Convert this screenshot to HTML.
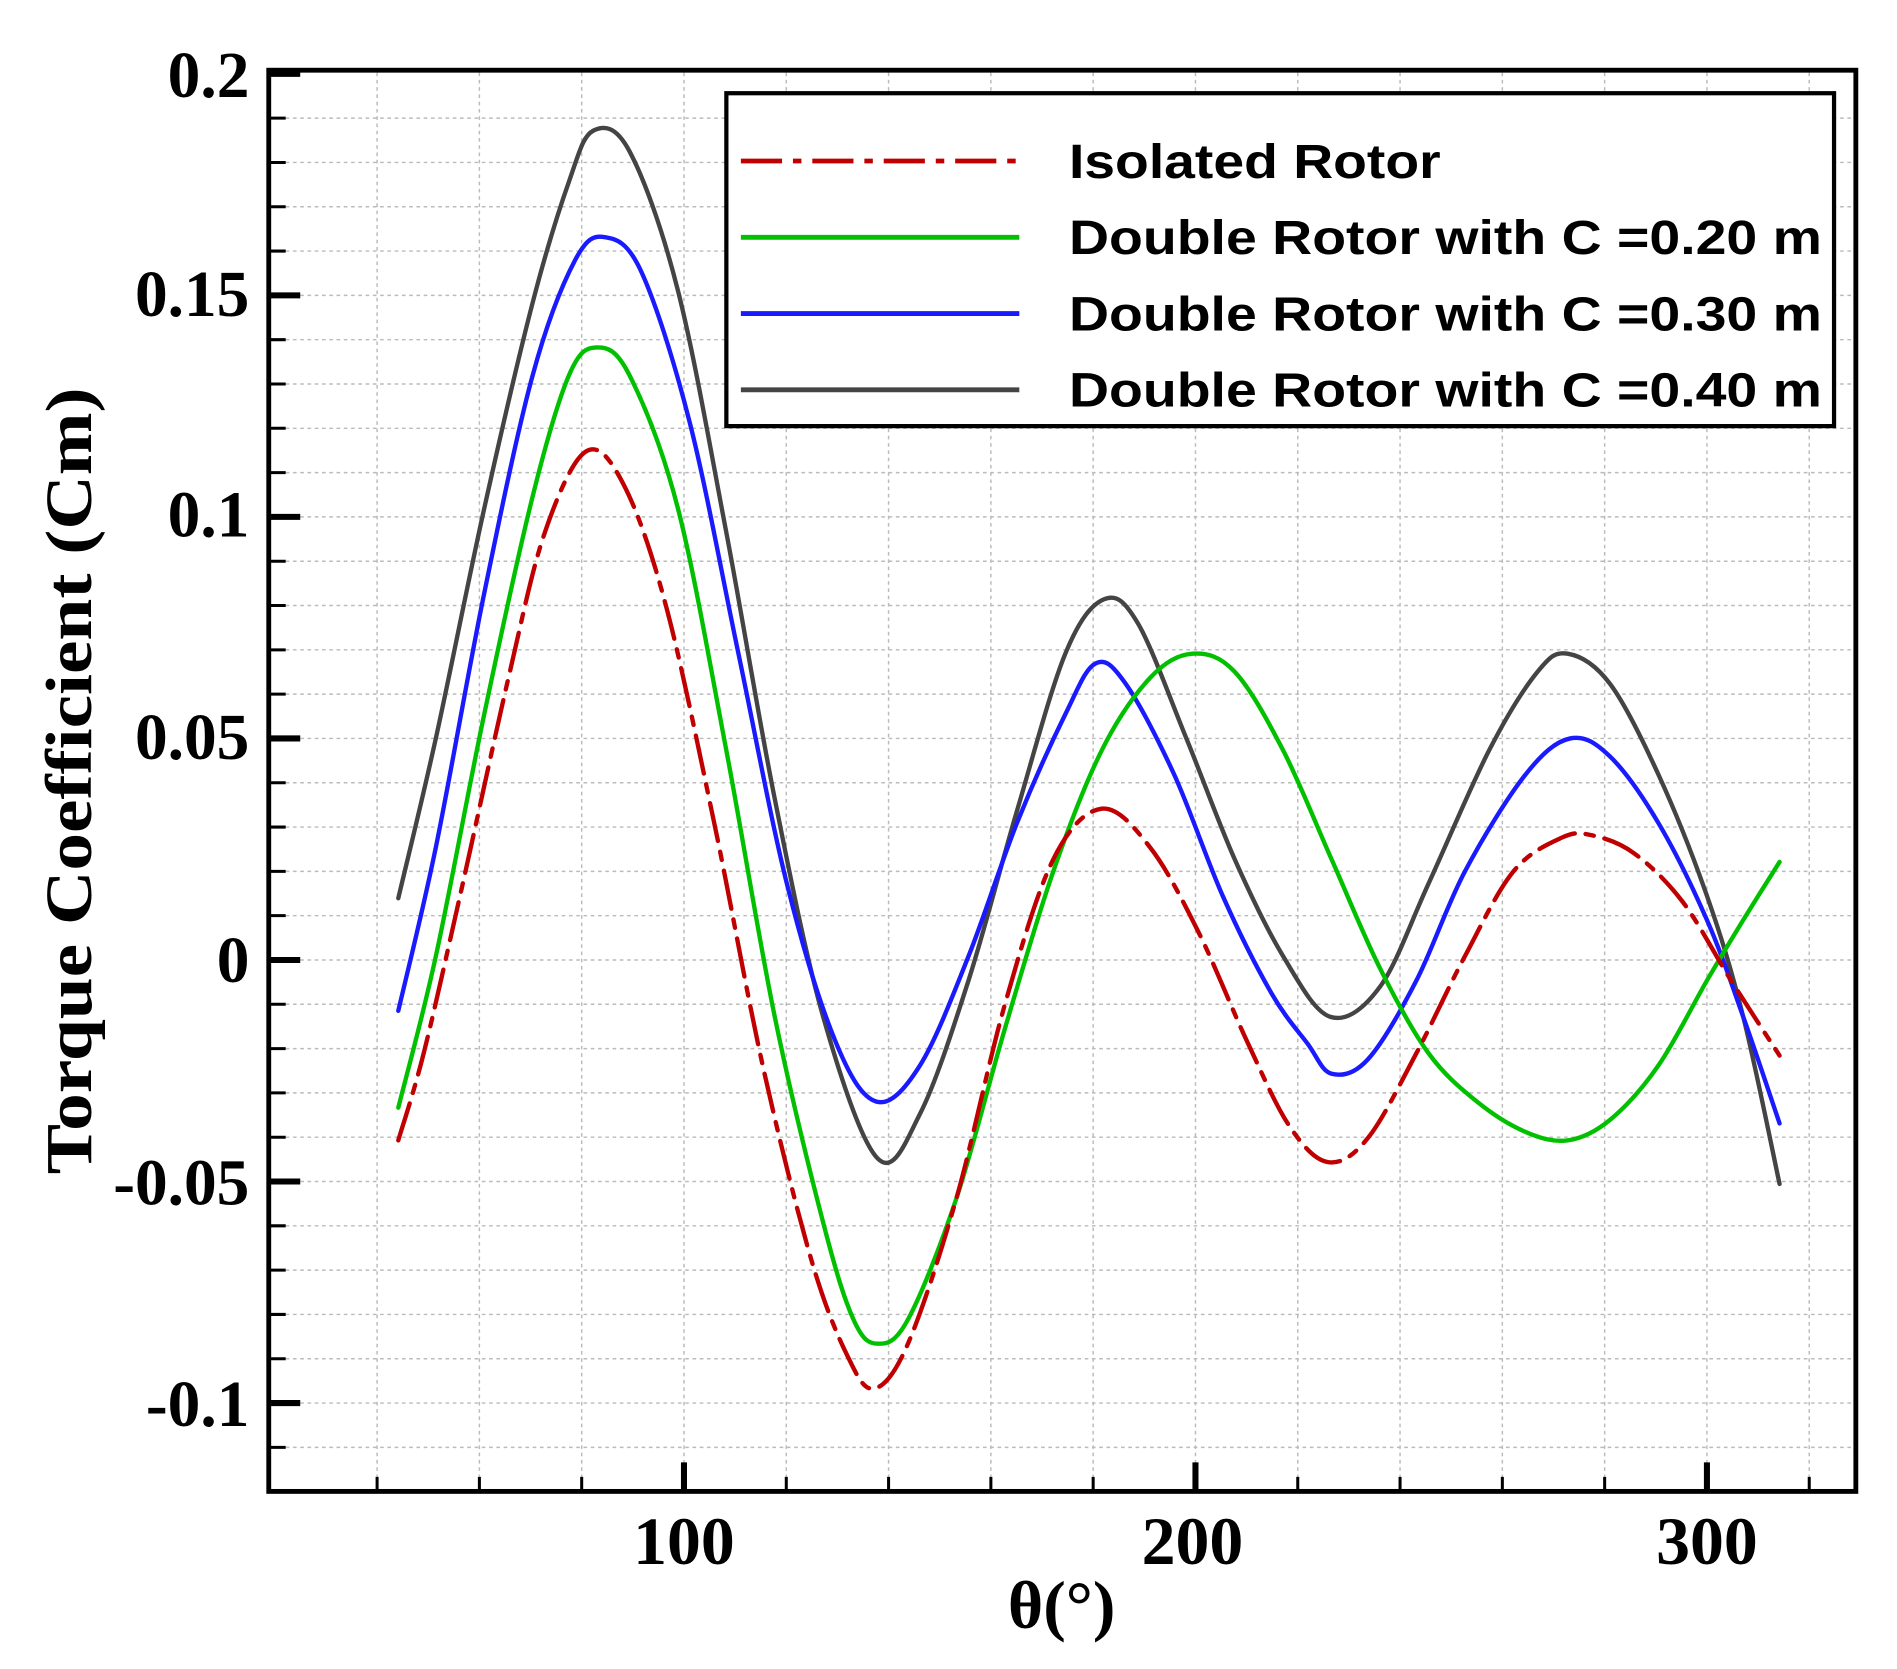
<!DOCTYPE html>
<html><head><meta charset="utf-8"><style>
html,body{margin:0;padding:0;background:#fff;}
svg{display:block;}
</style></head><body>
<svg id="c" width="1897" height="1669" viewBox="0 0 1567 1378.7" preserveAspectRatio="none" xmlns="http://www.w3.org/2000/svg">
<rect width="1567" height="1378.7" fill="#fff"/>
<g id="grid" stroke="#bbb" stroke-width="1.2" stroke-dasharray="3,3"></g>
<g id="ticks" stroke="#000"></g>
<g id="curves" fill="none" stroke-linejoin="round" stroke-linecap="round"></g>
<rect x="222" y="58" width="1311" height="1174" fill="none" stroke="#000" stroke-width="4"/>
<rect x="600" y="77" width="915" height="275" fill="#fff" stroke="#000" stroke-width="3.5"/>
<line x1="612" y1="133" x2="842" y2="133" stroke="#c00000" stroke-width="4" stroke-dasharray="34,9,7,9"/>
<line x1="612" y1="196" x2="842" y2="196" stroke="#00c000" stroke-width="4"/>
<line x1="612" y1="259" x2="842" y2="259" stroke="#1a1aff" stroke-width="4"/>
<line x1="612" y1="322" x2="842" y2="322" stroke="#444" stroke-width="4"/>
<g font-family="Liberation Sans, sans-serif" font-weight="bold" font-size="40" fill="#000">
<text x="883" y="147" textLength="307" lengthAdjust="spacingAndGlyphs">Isolated Rotor</text>
<text x="883" y="210" textLength="622" lengthAdjust="spacingAndGlyphs">Double Rotor with C =0.20 m</text>
<text x="883" y="273" textLength="622" lengthAdjust="spacingAndGlyphs">Double Rotor with C =0.30 m</text>
<text x="883" y="336" textLength="622" lengthAdjust="spacingAndGlyphs">Double Rotor with C =0.40 m</text>
</g>
<g font-family="Liberation Serif, serif" font-weight="bold" font-size="54" fill="#000" text-anchor="end">
<text x="206" y="80">0.2</text>
<text x="206" y="261">0.15</text>
<text x="206" y="443">0.1</text>
<text x="206" y="627">0.05</text>
<text x="206" y="811">0</text>
<text x="206" y="995">-0.05</text>
<text x="206" y="1178">-0.1</text>
</g>
<g font-family="Liberation Serif, serif" font-weight="bold" font-size="56" fill="#000" text-anchor="middle">
<text x="565" y="1292">100</text>
<text x="985" y="1292">200</text>
<text x="1410" y="1292">300</text>
<text x="877" y="1345" font-size="56">θ(°)</text>
<text transform="translate(75,645) rotate(-90)" font-size="54" textLength="650" lengthAdjust="spacingAndGlyphs">Torque Coefficient (Cm)</text>
</g>
</svg>
<script>
const NS="http://www.w3.org/2000/svg";
function el(p,t,a){const e=document.createElementNS(NS,t);for(const k in a)e.setAttribute(k,a[k]);p.appendChild(e);return e;}
const X=d=>142.5+4.225*d, Y=v=>793-3660*v;
const grid=document.getElementById('grid'), ticks=document.getElementById('ticks');
for(let d=40;d<=320;d+=20){const x=X(d);el(grid,'line',{x1:x,y1:60,x2:x,y2:1230});
 const maj=d%100==0; el(ticks,'line',{x1:x,y1:1232,x2:x,y2:1232-(maj?24:12),'stroke-width':maj?5:2.5});}
for(let i=-12;i<=20;i++){const y=Y(i/100); if(i>-12&&i<20) el(grid,'line',{x1:224,y1:y,x2:1531,y2:y});
 const maj=i%5==0; el(ticks,'line',{x1:222,y1:y,x2:222+(maj?26:14),y2:y,'stroke-width':maj?5:2.5});}
function path(p){let d=`M${p[0][0]},${p[0][1]}`;for(let i=0;i<p.length-1;i++){const p0=p[i-1]||p[i],p1=p[i],p2=p[i+1],p3=p[i+2]||p2;
 d+=` C${p1[0]+(p2[0]-p0[0])/6},${p1[1]+(p2[1]-p0[1])/6} ${p2[0]-(p3[0]-p1[0])/6},${p2[1]-(p3[1]-p1[1])/6} ${p2[0]},${p2[1]}`;}return d;}
const S=[
["#444",null,[[329,742],[360,610],[400,420],[440,250],[470,150],[490,108],[520,125],[560,240],[600,440],[640,660],[680,840],[725,957],[760,920],[800,810],[840,670],[880,540],[912,495],[940,515],[980,610],[1020,710],[1060,790],[1099,840],[1140,815],[1180,730],[1230,620],[1270,555],[1295,540],[1330,565],[1370,640],[1410,740],[1440,840],[1470,978]]],
["#1a1aff",null,[[329,835],[360,700],[400,490],[440,310],[475,215],[500,196],[530,225],[570,350],[610,540],[650,730],[690,860],[724,910],[760,880],[800,790],[840,680],[880,590],[905,548],[930,565],[970,640],[1010,740],[1050,820],[1080,862],[1100,887],[1130,875],[1170,810],[1210,720],[1260,640],[1297,610],[1330,625],[1370,680],[1410,760],[1440,840],[1470,928]]],
["#00c000",null,[[329,915],[360,790],[400,590],[440,410],[470,310],[493,287],[520,310],[560,420],[600,620],[640,840],[680,1010],[705,1090],[725,1110],[750,1090],[790,990],[830,850],[870,720],[910,620],[950,560],[985,540],[1020,555],[1060,620],[1100,710],[1140,800],[1180,870],[1220,910],[1260,935],[1295,942],[1330,925],[1370,880],[1410,810],[1440,760],[1470,712]]],
["#c00000","32,9,7,9",[[329,942],[350,870],[380,740],[420,560],[450,440],[484,373],[515,400],[550,500],[590,680],[630,880],[670,1040],[700,1120],[722,1147],[750,1110],[790,990],[830,830],[870,710],[910,668],[950,700],[990,770],[1030,860],[1065,930],[1097,960],[1130,940],[1170,870],[1210,790],[1250,720],[1290,692],[1315,690],[1350,705],[1390,745],[1430,810],[1470,872]]]];
const cg=document.getElementById('curves');
for(const [c,da,p] of S){const a={d:path(p),stroke:c,'stroke-width':3.6};if(da)a['stroke-dasharray']=da;el(cg,'path',a);}
</script>
</body></html>
